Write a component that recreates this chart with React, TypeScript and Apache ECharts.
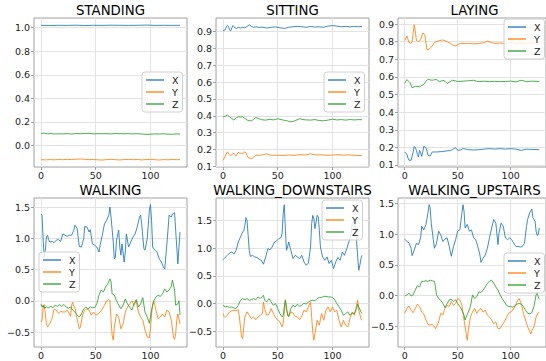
import React, { useEffect, useRef } from 'react';
import * as echarts from 'echarts';

type P = [number, number][];

const TITLES = ['STANDING', 'SITTING', 'LAYING', 'WALKING', 'WALKING_DOWNSTAIRS', 'WALKING_UPSTAIRS'];
const SERIES_NAMES = ['X', 'Y', 'Z'];
const X_TICKS = [0, 50, 100];

const STANDING_X: P = [[0,1.02],[8,1.018],[16,1.02],[24,1.019],[32,1.021],[40,1.018],[48,1.02],[56,1.019],[64,1.021],[72,1.02],[80,1.019],[88,1.02],[96,1.022],[104,1.019],[112,1.02],[120,1.019],[127,1.02]];
const STANDING_Y: P = [[0,-0.12],[4,-0.123],[8,-0.12],[12,-0.122],[16,-0.119],[20,-0.121],[24,-0.118],[28,-0.12],[32,-0.117],[36,-0.115],[40,-0.118],[44,-0.121],[48,-0.119],[52,-0.122],[56,-0.124],[60,-0.12],[64,-0.118],[68,-0.121],[72,-0.123],[76,-0.12],[80,-0.118],[84,-0.121],[88,-0.119],[92,-0.123],[96,-0.12],[100,-0.118],[104,-0.121],[108,-0.124],[112,-0.12],[116,-0.122],[120,-0.119],[124,-0.121],[127,-0.12]];
const STANDING_Z: P = [[0,0.102],[3,0.104],[6,0.099],[9,0.101],[12,0.097],[16,0.099],[20,0.098],[24,0.1],[28,0.097],[32,0.101],[36,0.099],[40,0.102],[44,0.103],[48,0.098],[52,0.1],[56,0.099],[60,0.1],[64,0.098],[68,0.101],[72,0.1],[76,0.099],[80,0.1],[84,0.098],[88,0.1],[92,0.097],[96,0.094],[100,0.095],[104,0.098],[108,0.097],[112,0.099],[116,0.096],[120,0.095],[124,0.098],[127,0.096]];

const SITTING_X: P = [[0,0.904],[2,0.91],[3,0.925],[4,0.935],[5,0.93],[6,0.912],[7,0.903],[8,0.92],[9,0.935],[10,0.928],[12,0.918],[14,0.925],[16,0.92],[18,0.925],[20,0.922],[22,0.93],[24,0.94],[26,0.93],[28,0.925],[30,0.928],[33,0.924],[36,0.926],[40,0.92],[44,0.925],[48,0.927],[52,0.922],[56,0.918],[60,0.925],[64,0.928],[68,0.93],[72,0.928],[76,0.925],[80,0.93],[84,0.926],[88,0.928],[92,0.925],[96,0.932],[100,0.935],[104,0.932],[108,0.928],[112,0.93],[116,0.927],[120,0.93],[124,0.928],[127,0.93]];
const SITTING_Y: P = [[0,0.137],[2,0.16],[4,0.187],[6,0.17],[7,0.163],[9,0.175],[10,0.178],[12,0.163],[14,0.183],[16,0.178],[18,0.177],[20,0.187],[21,0.18],[23,0.153],[25,0.148],[27,0.15],[30,0.167],[33,0.165],[36,0.17],[40,0.175],[43,0.168],[46,0.166],[50,0.167],[55,0.165],[60,0.168],[65,0.166],[70,0.17],[75,0.168],[80,0.175],[85,0.168],[90,0.17],[95,0.166],[100,0.168],[105,0.17],[110,0.167],[115,0.169],[120,0.166],[127,0.165]];
const SITTING_Z: P = [[0,0.393],[2,0.398],[4,0.405],[6,0.395],[8,0.385],[10,0.375],[12,0.388],[14,0.395],[16,0.393],[18,0.395],[20,0.385],[22,0.375],[24,0.372],[26,0.37],[28,0.38],[30,0.39],[32,0.385],[35,0.378],[38,0.375],[40,0.376],[43,0.38],[46,0.376],[50,0.383],[53,0.378],[55,0.375],[58,0.372],[61,0.366],[63,0.365],[66,0.372],[70,0.383],[73,0.378],[76,0.376],[80,0.375],[84,0.378],[88,0.372],[92,0.371],[96,0.375],[100,0.38],[104,0.376],[108,0.378],[112,0.375],[116,0.378],[120,0.376],[124,0.378],[127,0.377]];

const LAYING_X: P = [[0,0.174],[2,0.161],[3,0.14],[4,0.127],[6,0.127],[7,0.15],[8,0.174],[9,0.206],[10,0.2],[11,0.183],[12,0.16],[13,0.145],[14,0.183],[15,0.17],[16,0.149],[17,0.175],[18,0.206],[20,0.198],[21,0.18],[22,0.155],[24,0.151],[26,0.174],[30,0.174],[35,0.176],[40,0.18],[43,0.182],[45,0.187],[48,0.198],[50,0.183],[53,0.186],[55,0.193],[58,0.19],[60,0.187],[65,0.185],[70,0.187],[75,0.19],[80,0.193],[85,0.19],[90,0.193],[95,0.19],[100,0.193],[105,0.19],[110,0.183],[115,0.19],[120,0.188],[127,0.187]];
const LAYING_Y: P = [[0,0.807],[2,0.833],[4,0.797],[6,0.79],[7,0.8],[8,0.85],[9,0.896],[10,0.86],[11,0.807],[13,0.8],[15,0.81],[17,0.85],[19,0.84],[21,0.754],[23,0.757],[26,0.776],[28,0.795],[32,0.805],[36,0.81],[40,0.8],[43,0.79],[45,0.782],[48,0.776],[52,0.79],[56,0.79],[60,0.79],[65,0.788],[70,0.79],[75,0.795],[78,0.803],[82,0.795],[85,0.79],[90,0.792],[95,0.79],[100,0.795],[105,0.79],[110,0.792],[115,0.79],[120,0.793],[127,0.79]];
const LAYING_Z: P = [[0,0.563],[2,0.585],[5,0.567],[7,0.538],[10,0.547],[14,0.544],[18,0.558],[20,0.575],[22,0.587],[24,0.583],[26,0.581],[28,0.584],[30,0.585],[33,0.573],[36,0.581],[38,0.575],[40,0.563],[42,0.57],[45,0.581],[48,0.577],[50,0.574],[55,0.576],[60,0.578],[65,0.581],[68,0.575],[70,0.573],[75,0.576],[80,0.573],[85,0.575],[90,0.573],[95,0.574],[100,0.576],[105,0.572],[110,0.581],[115,0.573],[120,0.576],[127,0.574]];

const WALKING_X: P = [[0,1.39],[1,1.37],[2,0.97],[3,0.70],[4,0.81],[5,1.02],[6,1.05],[7,0.98],[8,0.94],[10,0.95],[12,0.93],[14,0.97],[16,0.98],[18,0.95],[20,1.07],[22,1.05],[24,1.03],[26,1.05],[28,1.05],[30,1.13],[31,1.21],[33,1.16],[35,0.87],[37,0.86],[39,0.99],[40,1.19],[42,1.18],[44,1.10],[45,1.14],[47,0.91],[49,0.89],[51,0.86],[53,0.78],[54,0.89],[56,1.05],[58,1.23],[60,1.29],[62,1.37],[63,1.50],[64,1.34],[66,0.94],[67,0.67],[68,0.70],[69,0.97],[71,1.13],[72,0.86],[73,0.73],[74,0.91],[76,0.62],[77,0.78],[78,1.07],[80,0.86],[82,0.94],[84,1.02],[86,1.07],[88,1.19],[90,1.34],[91,1.37],[92,1.23],[94,0.83],[95,0.81],[97,0.99],[99,1.45],[100,1.54],[101,1.29],[102,0.86],[104,0.81],[106,0.78],[108,0.67],[110,0.62],[112,0.53],[113,0.51],[114,0.70],[116,1.13],[117,1.37],[119,1.34],[120,1.39],[122,1.41],[123,1.13],[124,0.86],[125,0.59],[126,0.86],[127,1.10]];
const WALKING_Y: P = [[0,-0.34],[1,-0.31],[2,-0.10],[3,-0.06],[4,-0.21],[5,-0.37],[6,-0.42],[8,-0.37],[10,-0.29],[12,-0.13],[14,-0.15],[16,-0.20],[18,-0.17],[20,-0.18],[22,-0.18],[24,-0.15],[26,-0.21],[27,-0.25],[28,-0.07],[29,-0.02],[30,-0.09],[31,-0.10],[32,-0.21],[34,-0.37],[35,-0.45],[36,-0.42],[38,-0.23],[40,-0.15],[42,-0.13],[44,-0.15],[46,-0.23],[48,-0.18],[50,-0.23],[52,-0.21],[54,-0.18],[56,-0.13],[58,-0.07],[60,0.0],[62,0.02],[63,0.0],[64,-0.31],[65,-0.55],[66,-0.63],[67,-0.42],[69,-0.21],[71,-0.26],[73,-0.45],[75,-0.37],[77,-0.18],[79,-0.10],[81,-0.05],[83,0.0],[85,-0.07],[87,0.0],[89,-0.18],[91,-0.26],[93,-0.31],[95,-0.47],[97,-0.58],[99,-0.59],[100,-0.45],[101,-0.21],[102,-0.05],[103,0.0],[105,-0.15],[107,-0.29],[109,-0.26],[111,-0.21],[113,-0.26],[115,-0.15],[117,-0.18],[119,-0.31],[121,-0.58],[122,-0.62],[123,-0.53],[124,-0.31],[125,-0.21],[127,-0.37]];
const WALKING_Z: P = [[0,-0.05],[1,-0.10],[2,-0.07],[3,-0.12],[5,-0.10],[7,-0.11],[9,-0.09],[11,-0.11],[13,-0.07],[15,-0.09],[17,-0.06],[19,-0.09],[21,-0.06],[23,-0.10],[25,-0.12],[27,-0.10],[29,-0.15],[31,-0.18],[33,-0.23],[35,-0.26],[37,-0.21],[39,-0.13],[41,-0.10],[43,-0.13],[45,-0.10],[47,-0.11],[49,-0.11],[51,-0.05],[53,0.09],[55,0.17],[57,0.14],[59,0.22],[61,0.27],[63,0.35],[64,0.30],[65,0.11],[67,0.09],[69,0.0],[71,-0.07],[73,-0.13],[75,-0.07],[77,0.03],[79,-0.05],[81,-0.10],[83,-0.15],[85,-0.05],[87,0.02],[89,-0.10],[91,-0.05],[93,0.05],[95,-0.18],[97,-0.26],[99,-0.36],[101,-0.15],[103,0.0],[105,0.06],[107,0.09],[109,0.07],[111,0.11],[113,0.19],[115,0.14],[117,0.17],[119,0.23],[120,0.33],[122,0.17],[123,-0.07],[125,-0.05],[126,0.0],[127,-0.23]];

const DOWN_X: P = [[0,0.79],[2,0.83],[4,0.87],[6,0.91],[8,0.93],[10,0.89],[12,0.96],[14,1.11],[16,1.20],[18,1.29],[19,1.31],[20,1.41],[21,1.55],[22,1.50],[23,1.23],[24,0.96],[25,0.85],[27,0.87],[29,0.84],[31,0.83],[33,0.80],[35,0.78],[37,0.71],[39,0.84],[41,0.99],[43,0.97],[45,1.02],[47,1.11],[49,1.13],[51,1.17],[53,1.19],[54,1.26],[55,1.62],[56,1.78],[57,1.32],[58,0.96],[59,1.02],[60,1.11],[62,0.96],[64,0.81],[66,0.87],[68,0.84],[70,0.81],[72,0.87],[74,0.75],[76,0.69],[78,0.73],[80,1.02],[81,1.44],[82,1.59],[83,1.53],[84,1.35],[85,1.47],[86,1.59],[87,1.56],[88,1.32],[89,1.02],[91,0.84],[93,0.78],[95,0.84],[97,0.72],[99,0.78],[101,0.63],[103,0.75],[105,0.83],[107,0.78],[109,0.93],[111,0.87],[113,0.99],[115,1.11],[117,1.26],[118,1.44],[120,1.50],[122,1.14],[123,0.84],[124,0.60],[125,0.69],[126,0.81],[127,0.87]];
const DOWN_Y: P = [[0,-0.18],[1,-0.23],[2,-0.25],[4,-0.21],[6,-0.15],[8,-0.13],[10,-0.12],[12,-0.13],[14,-0.11],[15,-0.24],[16,-0.42],[17,-0.60],[18,-0.63],[19,-0.42],[20,-0.24],[22,-0.15],[24,-0.21],[26,-0.27],[28,-0.24],[30,-0.29],[32,-0.24],[34,-0.21],[36,-0.18],[37,0.03],[38,-0.09],[40,-0.21],[42,-0.19],[44,-0.09],[46,-0.18],[48,-0.25],[50,-0.30],[52,-0.33],[54,-0.42],[55,-0.36],[56,-0.15],[57,0.07],[58,-0.12],[60,-0.24],[62,-0.15],[64,-0.17],[66,-0.23],[68,-0.24],[70,-0.29],[72,-0.23],[74,-0.12],[76,-0.15],[78,-0.06],[80,0.03],[81,-0.24],[82,-0.51],[83,-0.66],[84,-0.54],[86,-0.30],[88,-0.39],[90,-0.18],[92,-0.30],[94,-0.12],[96,-0.06],[98,-0.15],[100,-0.06],[102,-0.15],[104,-0.12],[106,-0.30],[108,-0.42],[110,-0.30],[112,-0.39],[114,-0.42],[116,-0.27],[118,-0.15],[120,-0.21],[122,-0.03],[123,0.06],[124,-0.12],[126,-0.27],[127,-0.30]];
const DOWN_Z: P = [[0,-0.03],[2,-0.06],[4,-0.05],[6,-0.07],[8,-0.06],[10,-0.08],[12,-0.09],[14,-0.03],[16,0.06],[18,0.09],[20,0.07],[22,0.09],[24,0.06],[26,0.07],[28,0.09],[30,0.07],[32,0.12],[34,0.09],[36,0.13],[37,0.15],[38,0.06],[40,0.03],[42,0.09],[44,0.03],[46,-0.03],[48,0.0],[50,-0.09],[52,-0.18],[54,-0.24],[55,-0.21],[56,-0.06],[57,0.06],[58,-0.06],[59,-0.21],[60,-0.23],[62,-0.09],[64,-0.03],[66,-0.06],[68,-0.01],[70,-0.05],[72,-0.03],[74,0.01],[76,-0.01],[78,0.03],[80,0.05],[82,0.06],[84,0.05],[86,0.09],[88,0.11],[90,0.11],[92,0.13],[94,0.13],[96,0.12],[98,0.12],[100,0.11],[102,0.07],[104,0.0],[106,-0.06],[108,-0.12],[110,-0.21],[112,-0.18],[114,-0.15],[116,-0.21],[118,-0.17],[120,-0.18],[122,-0.09],[123,-0.01],[124,-0.06],[126,-0.15],[127,-0.18]];

const UP_X: P = [[0,0.92],[2,0.88],[4,0.86],[6,0.77],[7,0.65],[9,0.74],[11,0.85],[13,0.83],[15,0.94],[16,1.13],[18,1.07],[20,1.16],[22,1.35],[23,1.48],[24,1.43],[25,1.18],[27,0.91],[28,0.77],[30,0.85],[32,1.05],[34,0.99],[36,0.88],[38,0.92],[40,0.94],[42,0.80],[44,0.64],[46,0.80],[48,0.91],[50,1.05],[52,1.07],[54,1.35],[55,1.48],[56,1.37],[57,1.10],[59,1.16],[61,1.05],[63,1.07],[65,0.94],[67,0.91],[69,0.80],[71,0.66],[72,0.54],[74,0.61],[76,0.66],[78,0.77],[80,0.94],[82,1.10],[84,1.24],[86,1.18],[88,0.83],[89,1.02],[91,1.18],[93,1.13],[95,0.94],[97,0.91],[99,0.94],[101,0.91],[103,0.85],[105,0.80],[107,0.80],[109,0.79],[111,0.80],[113,0.85],[115,1.13],[116,1.24],[118,1.35],[120,1.41],[121,1.27],[123,1.21],[124,1.05],[125,0.98],[126,0.99],[127,1.10]];
const UP_Y: P = [[0,-0.29],[2,-0.21],[4,-0.17],[6,-0.24],[8,-0.28],[10,-0.21],[12,-0.14],[14,-0.18],[16,-0.27],[18,-0.30],[20,-0.40],[22,-0.47],[24,-0.48],[26,-0.47],[28,-0.51],[29,-0.54],[30,-0.51],[32,-0.43],[34,-0.29],[36,-0.32],[38,-0.21],[40,-0.16],[42,-0.18],[44,-0.10],[46,-0.16],[48,-0.13],[50,-0.05],[52,-0.07],[54,-0.16],[56,-0.40],[58,-0.62],[59,-0.73],[60,-0.57],[62,-0.35],[64,-0.27],[66,-0.21],[68,-0.29],[70,-0.24],[72,-0.21],[74,-0.27],[76,-0.24],[78,-0.32],[80,-0.35],[82,-0.40],[84,-0.46],[86,-0.43],[88,-0.54],[90,-0.54],[92,-0.48],[94,-0.43],[96,-0.36],[98,-0.29],[100,-0.27],[102,-0.24],[104,-0.18],[106,-0.10],[108,-0.05],[110,-0.13],[112,-0.29],[114,-0.40],[116,-0.51],[118,-0.59],[119,-0.63],[120,-0.57],[122,-0.51],[124,-0.35],[126,-0.28],[127,-0.27]];
const UP_Z: P = [[0,-0.01],[2,0.01],[4,0.04],[6,-0.01],[8,0.01],[10,0.09],[12,0.16],[14,0.14],[16,0.23],[18,0.23],[20,0.24],[22,0.23],[24,0.25],[26,0.24],[28,0.23],[29,0.14],[30,0.01],[32,-0.05],[34,-0.08],[36,-0.13],[38,-0.20],[40,-0.13],[42,-0.07],[44,-0.06],[46,-0.10],[48,-0.07],[50,-0.13],[52,-0.18],[54,-0.24],[56,-0.32],[57,-0.40],[58,-0.35],[60,-0.27],[62,-0.18],[64,0.01],[66,-0.05],[68,-0.02],[70,0.06],[72,0.05],[74,0.09],[76,0.14],[78,0.20],[80,0.23],[82,0.25],[84,0.20],[86,0.14],[88,0.09],[90,0.01],[92,-0.05],[94,-0.10],[96,-0.16],[98,-0.18],[100,-0.18],[102,-0.19],[104,-0.17],[106,-0.14],[108,-0.13],[110,-0.14],[112,-0.18],[114,-0.24],[116,-0.29],[118,-0.30],[120,-0.28],[122,-0.18],[124,0.01],[125,0.04],[126,-0.02],[127,-0.06]];

const PANEL_DATA: P[][] = [
  [STANDING_X, STANDING_Y, STANDING_Z],
  [SITTING_X, SITTING_Y, SITTING_Z],
  [LAYING_X, LAYING_Y, LAYING_Z],
  [WALKING_X, WALKING_Y, WALKING_Z],
  [DOWN_X, DOWN_Y, DOWN_Z],
  [UP_X, UP_Y, UP_Z],
];

const Y_TICKS: number[][] = [
  [0, 0.2, 0.4, 0.6, 0.8, 1.0],
  [0.1, 0.2, 0.3, 0.4, 0.5, 0.6, 0.7, 0.8, 0.9],
  [0.1, 0.2, 0.3, 0.4, 0.5, 0.6, 0.7, 0.8, 0.9],
  [-0.5, 0, 0.5, 1.0, 1.5],
  [-0.5, 0, 0.5, 1.0, 1.5],
  [-0.5, 0, 0.5, 1.0, 1.5],
];
const Y_RANGE: [number, number][] = [
  [-0.183, 1.082],
  [0.097, 0.98],
  [0.0885, 0.9345],
  [-0.74, 1.645],
  [-0.782, 1.902],
  [-0.84, 1.59],
];

// layout (not data)
const COLORS = ['#1f77b4', '#ff7f0e', '#2ca02c'];
const COL_LEFT = [34, 216, 398];
const ROW_TOP = [18, 198];
const GRID_W = 153;
const GRID_H = 149;
const TITLE_TOP = [4, 184];
const LEGEND_POS: [number, number][] = [
  [142, 72], [324, 72], [504, 19], [39, 252], [322, 200], [504, 253],
];
const FONT = 'DejaVu Sans';

export default function App() {
  const ref = useRef<HTMLDivElement>(null);
  useEffect(() => {
    if (!ref.current) return;
    const chart = echarts.init(ref.current, undefined, { renderer: 'svg' });
    const fmt = (v: number) => v.toFixed(1).replace('-', '\u2212');
    const grids: any[] = [];
    const xAxes: any[] = [];
    const yAxes: any[] = [];
    const titles: any[] = [];
    const legends: any[] = [];
    const series: any[] = [];
    for (let i = 0; i < 6; i++) {
      const col = i % 3;
      const row = Math.floor(i / 3);
      const left = COL_LEFT[col];
      const top = ROW_TOP[row];
      grids.push({ left, top, width: GRID_W, height: GRID_H, show: true, borderColor: '#a0a0a0', borderWidth: 1, backgroundColor: 'transparent' });
      xAxes.push({
        type: 'value', gridIndex: i, min: -6.35, max: 133.35, position: 'bottom',
        axisLine: { show: false, onZero: false },
        axisTick: { show: true, length: 3, customValues: X_TICKS, lineStyle: { color: '#a0a0a0' } },
        axisLabel: { customValues: X_TICKS, fontSize: 9.5, color: '#222', margin: 3, fontFamily: FONT, formatter: (v: number) => String(v) },
        splitLine: { show: true, customValues: X_TICKS, lineStyle: { color: '#e3e3e3', width: 1 } },
      });
      yAxes.push({
        type: 'value', gridIndex: i, min: Y_RANGE[i][0], max: Y_RANGE[i][1], position: 'left',
        axisLine: { show: false, onZero: false },
        axisTick: { show: true, length: 3, customValues: Y_TICKS[i], lineStyle: { color: '#a0a0a0' } },
        axisLabel: { customValues: Y_TICKS[i], fontSize: 9.5, color: '#222', margin: 4, fontFamily: FONT, formatter: fmt },
        splitLine: { show: true, customValues: Y_TICKS[i], lineStyle: { color: '#e3e3e3', width: 1 } },
      });
      titles.push({
        text: TITLES[i], left: left + GRID_W / 2, top: TITLE_TOP[row], textAlign: 'center', padding: 0,
        textStyle: { fontSize: 13.3, fontWeight: 'normal', color: '#000', fontFamily: FONT },
      });
      legends.push({
        data: SERIES_NAMES.map((n, k) => ({ name: n, icon: 'rect', itemStyle: { color: COLORS[k] } })),
        orient: 'vertical', left: LEGEND_POS[i][0], top: LEGEND_POS[i][1],
        itemWidth: 18, itemHeight: 1.3, itemGap: 2, padding: [3, 4, 3, 4],
        backgroundColor: 'rgba(255,255,255,0.8)', borderColor: '#d0d0d0', borderWidth: 1, borderRadius: 3,
        selectedMode: false,
        textStyle: { fontSize: 9.5, color: '#222', fontFamily: FONT, padding: [0, 0, 0, 3] },
      });
      PANEL_DATA[i].forEach((d, k) => {
        series.push({
          type: 'line', name: SERIES_NAMES[k], xAxisIndex: i, yAxisIndex: i, data: d,
          symbol: 'none', showSymbol: false, lineStyle: { width: 0.85, color: COLORS[k] }, itemStyle: { color: COLORS[k] },
          emphasis: { disabled: true },
        });
      });
    }
    chart.setOption({
      animation: false,
      backgroundColor: '#fff',
      title: titles,
      legend: legends,
      grid: grids,
      xAxis: xAxes,
      yAxis: yAxes,
      series,
    });
    return () => chart.dispose();
  }, []);
  return <div ref={ref} style={{ position: 'fixed', left: 0, top: 0, width: 546, height: 361 }} />;
}
